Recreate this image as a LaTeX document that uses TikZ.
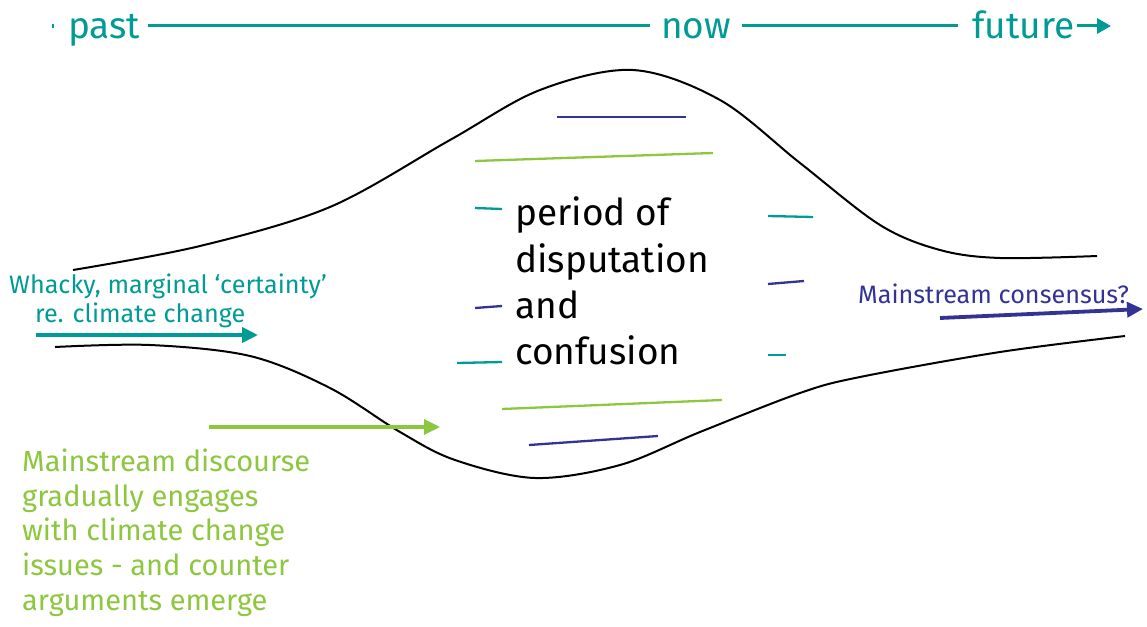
\documentclass[tikz,border=0pt]{standalone}
\usepackage{fontspec}
\setmainfont{Fira Sans}
\usetikzlibrary{arrows.meta}
\definecolor{cteal}{RGB}{0,155,149}
\definecolor{cnavy}{RGB}{51,51,150}
\definecolor{cgreen}{RGB}{141,198,63}
\tikzset{
  lbl/.style={inner sep=0pt, anchor=base west},
  bigtxt/.style={lbl, font=\fontsize{37}{44}\selectfont},
  midtxt/.style={lbl, font=\fontsize{25.2}{30}\selectfont},
  grntxt/.style={lbl, text=cgreen, font=\fontsize{29}{34}\selectfont},
  dashline/.style={line width=2.3pt},
  curve/.style={line width=2pt, black},
  bigarrow/.style={line width=3.8pt, -{Triangle[length=16pt,width=15pt]}},
}
\begin{document}
\begin{tikzpicture}[x=1pt,y=-1pt]
\useasboundingbox (0,0) rectangle (1147,626);
% timeline
\node[bigtxt, text=cteal] (past) at (68,39) {past};
\node[bigtxt, text=cteal] (now) at (661,39) {now};
\node[bigtxt, text=cteal] (future) at (972,39) {future};
\coordinate (tA) at (148,26);
\coordinate (tB) at (650,26);
\coordinate (tC) at (742,26);
\coordinate (tD) at (958,26);
\coordinate (tE) at (1077,26);
\coordinate (tF) at (1111,26);
\coordinate (tick1) at (53,24);
\coordinate (tick2) at (53,28);
\draw[cteal, line width=1.5pt] (tick1) -- (tick2);
\draw[cteal, line width=3pt] (tA) -- (tB);
\draw[cteal, line width=3pt] (tC) -- (tD);
\draw[cteal, line width=3pt, -{Triangle[length=14pt,width=15pt]}] (tE) -- (tF);
% envelope curves
\draw[curve] plot[smooth, tension=0.55] coordinates {(73,270) (200,246) (330,207) (450,140) (540,90) (633,70) (720,100) (800,163) (880,225) (940,250) (1000,258) (1097,256)};
\draw[curve] plot[smooth, tension=0.55] coordinates {(55,347) (150,345) (250,356) (330,388) (400,432) (455,460) (535,478) (620,465) (700,432) (800,393) (860,377) (1000,352) (1125,336)};
% central text
\node[bigtxt, text=black] (l1) at (515,225) {period of};
\node[bigtxt, text=black] (l2) at (515,272) {disputation};
\node[bigtxt, text=black] (l3) at (515,318) {and};
\node[bigtxt, text=black] (l4) at (515,364) {confusion};
% dashes
\coordinate (d1a) at (557,117); \coordinate (d1b) at (686,117);
\coordinate (d2a) at (475,161); \coordinate (d2b) at (713,153);
\coordinate (d3a) at (475,208); \coordinate (d3b) at (502,209);
\coordinate (d4a) at (768,216); \coordinate (d4b) at (813,217);
\coordinate (d5a) at (768,284); \coordinate (d5b) at (804,281);
\coordinate (d6a) at (475,308); \coordinate (d6b) at (502,306);
\coordinate (d7a) at (457,363); \coordinate (d7b) at (502,362);
\coordinate (d8a) at (768,355); \coordinate (d8b) at (786,355);
\coordinate (d9a) at (502,409); \coordinate (d9b) at (722,400);
\coordinate (d10a) at (529,445); \coordinate (d10b) at (658,436);
\draw[dashline, cnavy] (d1a) -- (d1b);
\draw[dashline, cgreen] (d2a) -- (d2b);
\draw[dashline, cteal] (d3a) -- (d3b);
\draw[dashline, cteal] (d4a) -- (d4b);
\draw[dashline, cnavy] (d5a) -- (d5b);
\draw[dashline, cnavy] (d6a) -- (d6b);
\draw[dashline, cteal] (d7a) -- (d7b);
\draw[dashline, cteal] (d8a) -- (d8b);
\draw[dashline, cgreen] (d9a) -- (d9b);
\draw[dashline, cnavy] (d10a) -- (d10b);
% left teal text and arrow
\node[midtxt, text=cteal] (w1) at (9,293) {Whacky, marginal ‘certainty’};
\node[midtxt, text=cteal] (w2) at (35,322) {re. climate change};
\coordinate (a1s) at (36,335); \coordinate (a1e) at (258,335);
\draw[bigarrow, cteal] (a1s) -- (a1e);
% green arrow and text
\coordinate (a2s) at (209,427); \coordinate (a2e) at (440,427);
\draw[bigarrow, cgreen, line width=3.4pt] (a2s) -- (a2e);
\node[grntxt] (g1) at (22,471) {Mainstream discourse};
\node[grntxt] (g2) at (22,506) {gradually engages};
\node[grntxt] (g3) at (22,540) {with climate change};
\node[grntxt] (g4) at (22,575) {issues - and counter};
\node[grntxt] (g5) at (22,610) {arguments emerge};
% navy
\node[midtxt, text=cnavy] (mc) at (858,303) {Mainstream consensus?};
\coordinate (a3s) at (940,318); \coordinate (a3e) at (1143,309);
\draw[bigarrow, cnavy] (a3s) -- (a3e);
\end{tikzpicture}
\end{document}
